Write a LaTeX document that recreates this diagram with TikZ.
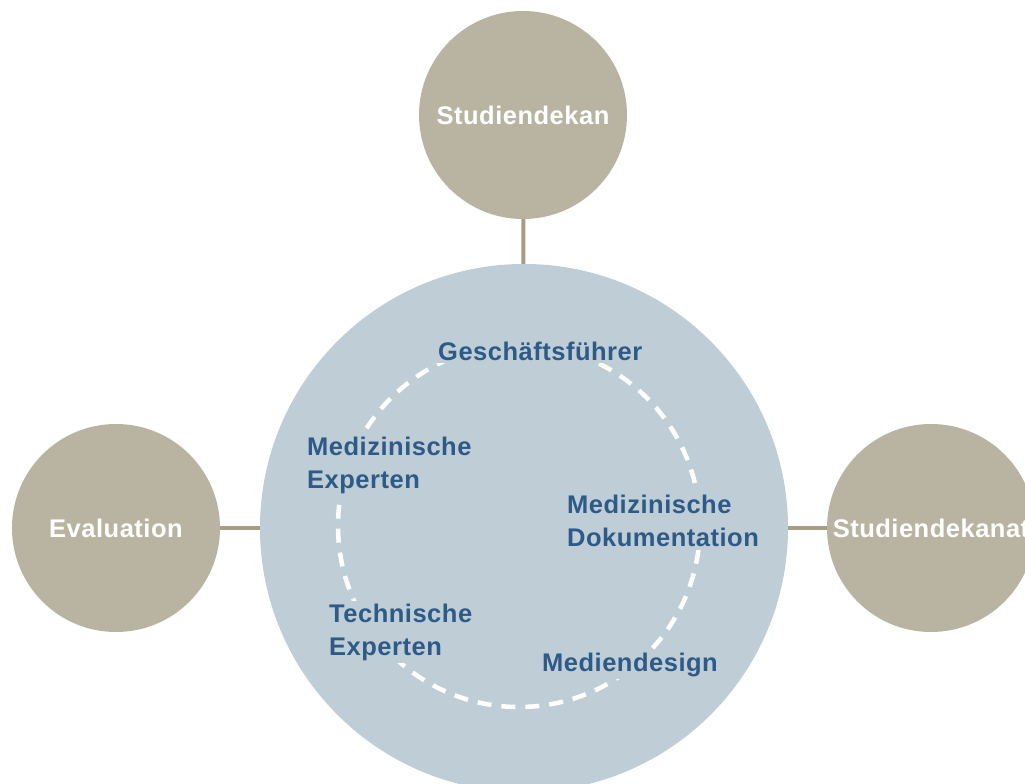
\documentclass[tikz,border=0pt]{standalone}
\usepackage{fontspec}
\usepackage{tikz}
\newfontfamily\rolefont[LetterSpace=2]{Liberation Sans}
\definecolor{roletan}{HTML}{B9B4A2}
\definecolor{linktan}{HTML}{A59D86}
\definecolor{coreblue}{HTML}{BFCDD6}
\definecolor{teamblue}{HTML}{2D5A87}

\begin{document}
\begin{tikzpicture}[x=1pt,y=-1pt,
    role/.style={circle,fill=roletan,minimum size=208pt,inner sep=0pt,
      text=white,font=\rolefont\bfseries\fontsize{25.5}{29}\selectfont},
    core/.style={circle,fill=coreblue,minimum size=528pt,inner sep=0pt},
    member/.style={fill=coreblue,inner sep=3pt,align=left,text=teamblue,
      font=\rolefont\bfseries\fontsize{25.5}{33}\selectfont},
    link/.style={draw=linktan,line width=4pt},
    ring/.style={draw=white,line width=4.5pt,dash pattern=on 14pt off 10pt}]
    \clip (0,0) rectangle (1025,784);
    \fill[white] (0,0) rectangle (1025,784);

    \node[core] (kern) at (524,528) {};
    \node[role] (dekan) at (523,115) {Studiendekan};
    \node[role] (evaluation) at (116,528) {Evaluation};
    \node[role] (dekanat) at (931,528) {Studiendekanat};

    \draw[link] (dekan) -- (kern);
    \draw[link] (evaluation) -- (kern);
    \draw[link] (kern) -- (dekanat);

    \coordinate (mitte) at (519,526);
    \draw[ring] (mitte) circle[radius=181];

    \node[member,anchor=base west] (gf) at (435,360) {Geschäftsführer};
    \node[member,anchor=west] (medexp) at (304,465) {Medizinische\\Experten};
    \node[member,anchor=west] (meddok) at (564,521) {Medizinische\\Dokumentation};
    \node[member,anchor=west] (techexp) at (326,632) {Technische\\Experten};
    \node[member,anchor=base west] (design) at (539,671) {Mediendesign};

\end{tikzpicture}
\end{document}
